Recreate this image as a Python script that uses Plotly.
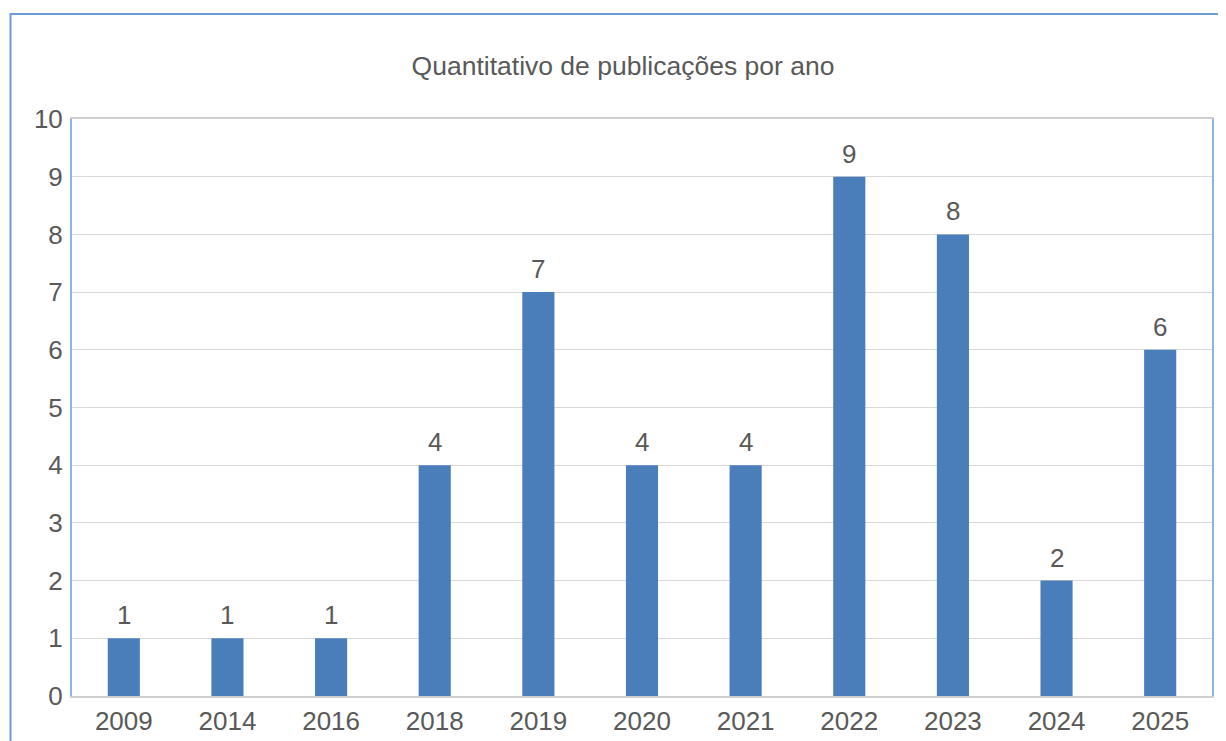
import plotly.graph_objects as go

years = ["2009", "2014", "2016", "2018", "2019", "2020", "2021", "2022", "2023", "2024", "2025"]
counts = [1, 1, 1, 4, 7, 4, 4, 9, 8, 2, 6]
title_text = "Quantitativo de publicações por ano"

TEXT = "#595959"
BAR = "#4a7ebb"
FONT = "Liberation Sans, Arial, sans-serif"

fig = go.Figure(go.Bar(
    x=years, y=counts, marker=dict(color=BAR, line=dict(width=0)),
))

for i, c in enumerate(counts):
    fig.add_annotation(x=i, y=c, text=str(c), showarrow=False, yanchor="bottom", yshift=6,
                       font=dict(size=26, color=TEXT, family=FONT))

L, R, T, B = 64, 22, 111, 53
PW, PH = 1226 - L - R, 741 - T - B

fig.update_layout(
    width=1226, height=741,
    margin=dict(l=L, r=R, t=T, b=B),
    paper_bgcolor="white", plot_bgcolor="white",
    bargap=0.69,
    showlegend=False,
    font=dict(family=FONT, color=TEXT),
    title=dict(text=title_text, x=615 / 1226, xanchor="center", y=1 - 58 / 741, yanchor="middle",
               font=dict(size=26.5, color=TEXT, family=FONT)),
    xaxis=dict(type="category", categoryorder="array", categoryarray=years,
               range=[-0.5, len(years) - 0.5],
               showline=True, linecolor="#cfcfcf", linewidth=2, mirror=True,
               showgrid=False, ticks="", tickfont=dict(size=26, color=TEXT), ticklabelstandoff=1),
    yaxis=dict(range=[0, 10], dtick=1, showline=True, linecolor="#8db3e2", linewidth=2, mirror=True,
               gridcolor="#d9d9d9", gridwidth=1, ticks="", zeroline=False,
               tickfont=dict(size=26, color=TEXT), ticklabelstandoff=2),
    shapes=[dict(type="rect", xref="paper", yref="paper",
                 x0=(2.5 - L) / PW, x1=1.1, y0=-0.2, y1=1 + (T - 6) / PH,
                 line=dict(color="#6f9ad6", width=2), fillcolor="rgba(0,0,0,0)", layer="below")],
)

fig.write_html("out.html")
